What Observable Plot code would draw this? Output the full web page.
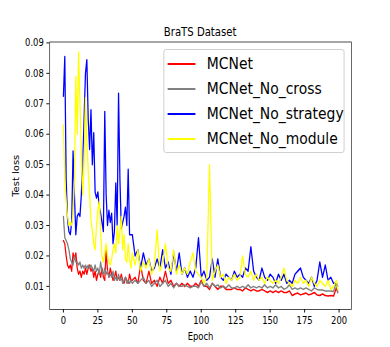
<!DOCTYPE html>
<html><head><meta charset="utf-8">
<script src="https://cdn.jsdelivr.net/npm/d3@7"></script>
<script src="https://cdn.jsdelivr.net/npm/@observablehq/plot@0.6"></script>
<style>
html,body{margin:0;padding:0;background:#fff;overflow:hidden;}
#clip{width:390px;height:347px;overflow:hidden;position:relative;background:#fff;}
#fig{position:absolute;left:0;top:0;width:463px;height:347px;transform:scaleX(0.842333);transform-origin:0 0;font-family:"DejaVu Sans",sans-serif;color:#000;}
#title{position:absolute;left:58.5px;width:358.2px;top:26px;line-height:12px;text-align:center;font-size:12px;}
#legend{position:absolute;left:193.5px;top:49px;width:215px;height:104px;box-sizing:border-box;border:1px solid #ccc;border-radius:3px;background:rgba(255,255,255,0.8);}
.row{position:absolute;left:0;height:24px;width:100%;}
.swatch{position:absolute;left:4.8px;top:11.25px;width:33px;height:1.5px;}
.lab{position:absolute;left:51px;top:0;line-height:24px;font-size:16.5px;white-space:nowrap;}
svg{position:absolute;left:0;top:0;}
</style>
</head><body>
<div id="clip"><div id="fig"><div id="title"></div></div></div>
<script>
const titleText = "BraTS Dataset";
const xLabel = "Epoch";
const yLabel = "Test loss";
const seriesNames = ["MCNet", "MCNet_No_cross", "MCNet_No_strategy", "MCNet_No_module"];
const seriesColors = ["red", "gray", "blue", "yellow"];
const xTicks = [0, 25, 50, 75, 100, 125, 150, 175, 200];
const yTicks = [0.01, 0.02, 0.03, 0.04, 0.05, 0.06, 0.07, 0.08, 0.09];

const epochs = [
0,1,2,3,4,5,6,7,8,9,
10,11,12,13,14,15,16,17,18,19,
20,21,22,23,24,25,26,27,28,29,
30,31,32,33,34,35,36,37,38,39,
40,41,42,43,44,45,46,47,48,49,
50,52,54,56,58,60,62,64,66,68,
70,72,74,76,78,80,82,84,86,88,
90,92,94,96,98,100,102,104,106,108,
110,112,114,116,118,120,122,124,126,128,
130,132,134,136,138,140,142,144,146,148,
150,152,154,156,158,160,162,164,166,168,
170,172,174,176,178,180,182,184,186,188,
190,192,194,196,198,199];

const mcnet = [
0.025,0.024,0.020,0.017,0.016,0.017,0.015,0.021,0.019,0.021,
0.016,0.014,0.015,0.013,0.015,0.014,0.016,0.014,0.016,0.017,
0.015,0.016,0.013,0.015,0.012,0.014,0.015,0.013,0.016,0.013,
0.012,0.022,0.015,0.013,0.016,0.014,0.012,0.013,0.015,0.012,
0.013,0.012,0.014,0.012,0.011,0.013,0.012,0.011,0.014,0.012,
0.012,0.013,0.011,0.017,0.012,0.011,0.015,0.011,0.012,0.010,
0.013,0.011,0.015,0.011,0.012,0.010,0.011,0.010,0.011,0.010,
0.011,0.010,0.010,0.011,0.010,0.012,0.010,0.010,0.009,0.011,
0.010,0.009,0.010,0.010,0.009,0.009,0.009,0.0095,0.009,0.009,
0.0085,0.0095,0.009,0.0085,0.009,0.0085,0.0085,0.009,0.0085,0.008,
0.0085,0.008,0.0085,0.008,0.0085,0.008,0.008,0.0085,0.007,0.0075,
0.0078,0.0072,0.0075,0.0078,0.0072,0.0075,0.008,0.0072,0.007,0.0075,
0.007,0.0068,0.007,0.0068,0.0095,0.008];

const noCross = [
0.033,0.026,0.025,0.024,0.022,0.019,0.018,0.017,0.020,0.018,
0.018,0.017,0.018,0.016,0.017,0.016,0.017,0.016,0.017,0.016,
0.017,0.016,0.015,0.017,0.015,0.016,0.014,0.018,0.015,0.014,
0.016,0.014,0.015,0.013,0.014,0.013,0.015,0.012,0.013,0.012,
0.014,0.012,0.013,0.011,0.012,0.013,0.011,0.012,0.011,0.012,
0.011,0.012,0.011,0.012,0.013,0.011,0.012,0.010,0.011,0.012,
0.010,0.011,0.012,0.010,0.011,0.0095,0.011,0.010,0.010,0.0105,
0.010,0.0095,0.010,0.010,0.0095,0.0115,0.010,0.011,0.0095,0.011,
0.010,0.0105,0.0095,0.010,0.0095,0.0105,0.0095,0.0095,0.010,0.0095,
0.010,0.0095,0.0105,0.0095,0.010,0.0095,0.010,0.0095,0.0105,0.0095,
0.010,0.0095,0.0105,0.0095,0.010,0.009,0.0095,0.0105,0.009,0.0095,
0.009,0.0095,0.009,0.0095,0.009,0.0085,0.0095,0.009,0.0088,0.0088,
0.0085,0.0085,0.0085,0.0083,0.0115,0.008];

const noStrategy = [
0.0725,0.0855,0.045,0.032,0.028,0.027,0.031,0.0545,0.040,0.027,
0.033,0.034,0.033,0.040,0.050,0.065,0.080,0.0845,0.065,0.055,
0.068,0.050,0.0605,0.041,0.039,0.041,0.036,0.034,0.031,0.028,
0.0675,0.040,0.030,0.035,0.031,0.034,0.024,0.028,0.044,0.030,
0.0735,0.045,0.029,0.031,0.033,0.036,0.030,0.0485,0.027,0.027,
0.027,0.020,0.022,0.016,0.021,0.017,0.019,0.015,0.016,0.019,
0.016,0.022,0.016,0.018,0.014,0.021,0.015,0.021,0.014,0.016,
0.013,0.015,0.013,0.016,0.026,0.013,0.015,0.012,0.013,0.019,
0.013,0.019,0.013,0.012,0.014,0.013,0.012,0.015,0.013,0.014,
0.013,0.016,0.015,0.023,0.015,0.013,0.012,0.016,0.013,0.012,
0.014,0.013,0.011,0.014,0.012,0.014,0.011,0.012,0.011,0.014,
0.015,0.016,0.013,0.012,0.011,0.013,0.010,0.012,0.018,0.013,
0.017,0.012,0.013,0.011,0.011,0.010];

const noModule = [
0.063,0.045,0.038,0.033,0.030,0.031,0.030,0.034,0.045,0.079,
0.060,0.087,0.070,0.055,0.040,0.050,0.072,0.058,0.048,0.040,
0.032,0.028,0.024,0.022,0.030,0.035,0.038,0.028,0.020,0.018,
0.021,0.024,0.020,0.018,0.017,0.019,0.022,0.024,0.021,0.030,
0.024,0.028,0.033,0.022,0.027,0.019,0.018,0.024,0.019,0.016,
0.021,0.017,0.022,0.015,0.018,0.016,0.019,0.014,0.017,0.0285,
0.015,0.018,0.024,0.016,0.015,0.022,0.014,0.017,0.014,0.016,
0.014,0.018,0.021,0.015,0.014,0.013,0.011,0.013,0.050,0.012,
0.015,0.017,0.013,0.014,0.011,0.013,0.012,0.014,0.012,0.013,
0.020,0.014,0.013,0.015,0.012,0.014,0.012,0.013,0.011,0.013,
0.012,0.011,0.012,0.011,0.013,0.016,0.012,0.011,0.010,0.012,
0.011,0.013,0.011,0.012,0.010,0.013,0.011,0.010,0.012,0.011,
0.010,0.012,0.009,0.010,0.012,0.009];

const seriesValues = [mcnet, noCross, noStrategy, noModule];

const rows = [];
seriesNames.forEach((name, s) => {
  epochs.forEach((e, i) => rows.push({series: name, epoch: e, loss: seriesValues[s][i]}));
});

const chart = Plot.plot({
  width: 463, height: 347,
  marginLeft: 58.5, marginRight: 46.3, marginTop: 41.5, marginBottom: 38,
  style: {fontFamily: "'DejaVu Sans', sans-serif", fontSize: "10px", color: "#000", background: "transparent", overflow: "visible"},
  x: {domain: [-9.95, 208.95]},
  y: {domain: [0.0024, 0.0903]},
  marks: [
    ...seriesNames.map((name, s) =>
      Plot.line(rows.filter(d => d.series === name), {x: "epoch", y: "loss", stroke: seriesColors[s], strokeWidth: 1.5})
    ),
    Plot.frame({stroke: "#222", strokeWidth: 0.8}),
    Plot.axisX({ticks: xTicks, tickSize: 3.5, tickPadding: 3.5, label: xLabel, labelAnchor: "center", labelArrow: "none", labelOffset: 30}),
    Plot.axisY({ticks: yTicks, tickFormat: d3.format(".2f"), tickSize: 3.5, tickPadding: 3.5, label: yLabel, labelAnchor: "center", labelArrow: "none", labelOffset: 44})
  ]
});

const fig = document.getElementById("fig");
fig.insertBefore(chart, fig.firstChild);
document.getElementById("title").textContent = titleText;

const legend = document.createElement("div");
legend.id = "legend";
seriesNames.forEach((name, s) => {
  const row = document.createElement("div");
  row.className = "row";
  row.style.top = (2 + 25 * s) + "px";
  const sw = document.createElement("div");
  sw.className = "swatch";
  sw.style.background = seriesColors[s];
  const lab = document.createElement("div");
  lab.className = "lab";
  lab.textContent = name;
  row.appendChild(sw);
  row.appendChild(lab);
  legend.appendChild(row);
});
fig.appendChild(legend);
</script>
</body></html>
